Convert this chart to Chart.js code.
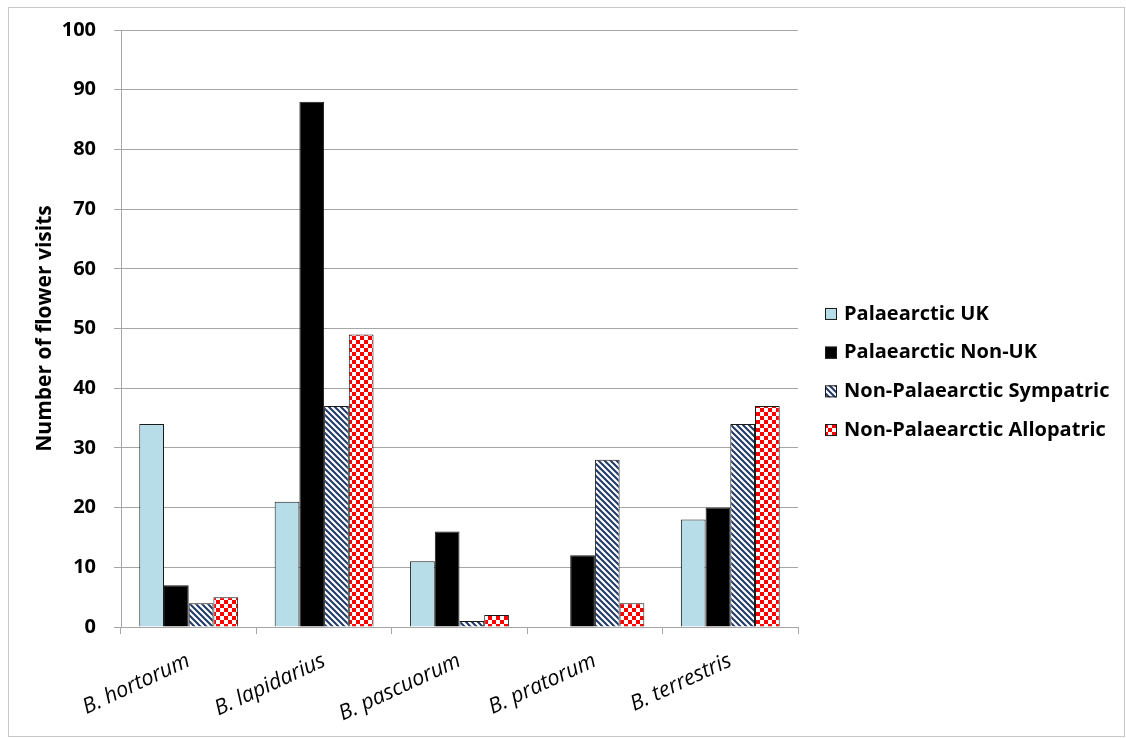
<!DOCTYPE html>
<html>
<head>
<meta charset="utf-8">
<script src="https://cdn.jsdelivr.net/npm/chart.js@4.4.0/dist/chart.umd.min.js"></script>
<style>
  html, body { margin: 0; padding: 0; background: #fff; }
  #wrap { position: relative; width: 1126px; height: 738px; }
  #frame { position: absolute; left: 8px; top: 7px; width: 1117px; height: 730px; box-sizing: border-box; border: 1px solid #c8c8c8; pointer-events: none; }
</style>
</head>
<body>
<div id="wrap">
  <canvas id="visitsChart" width="1126" height="738"></canvas>
  <div id="frame"></div>
</div>
<script>
const species = ["B. hortorum", "B. lapidarius", "B. pascuorum", "B. pratorum", "B. terrestris"];
const seriesNames = ["Palaearctic UK", "Palaearctic Non-UK", "Non-Palaearctic Sympatric", "Non-Palaearctic Allopatric"];
const palaearcticUK = [34, 21, 11, 0, 18];
const palaearcticNonUK = [7, 88, 16, 12, 20];
const nonPalSympatric = [4, 37, 1, 28, 34];
const nonPalAllopatric = [5, 49, 2, 4, 37];
const yTicks = { min: 0, max: 100, step: 10 };

function stripePattern() {
  const c = document.createElement("canvas");
  c.width = 6;
  c.height = 6;
  const g = c.getContext("2d");
  g.fillStyle = "#ffffff";
  g.fillRect(0, 0, 6, 6);
  g.strokeStyle = "#1f3864";
  g.lineWidth = 2;
  g.beginPath();
  g.moveTo(-1, -1); g.lineTo(7, 7);
  g.moveTo(-1, 5); g.lineTo(1, 7);
  g.moveTo(5, -1); g.lineTo(7, 1);
  g.stroke();
  return g.createPattern(c, "repeat");
}

function checkerPattern() {
  const c = document.createElement("canvas");
  c.width = 8;
  c.height = 8;
  const g = c.getContext("2d");
  g.fillStyle = "#ffffff";
  g.fillRect(0, 0, 8, 8);
  g.fillStyle = "#ff0000";
  g.fillRect(0, 0, 4, 4);
  g.fillRect(4, 4, 4, 4);
  return g.createPattern(c, "repeat");
}

const fills = ["#b7dde8", "#000000", stripePattern(), checkerPattern()];
const values = [palaearcticUK, palaearcticNonUK, nonPalSympatric, nonPalAllopatric];

const axisGray = "#a6a6a6";
const font = "'Open Sans', sans-serif";

// legend drawn beside the plot, Excel style (small square + bold text)
const sideLegend = {
  id: "sideLegend",
  afterDraw(chart) {
    const ctx = chart.ctx;
    const sets = chart.data.datasets;
    const spacing = 38.7;
    const x = chart.chartArea.right + 27;
    const mid = chart.height / 2 + 3;
    ctx.save();
    ctx.font = "bold 20px " + font;
    ctx.textBaseline = "middle";
    sets.forEach((ds, i) => {
      const y = mid + (i - (sets.length - 1) / 2) * spacing;
      ctx.fillStyle = ds.backgroundColor;
      ctx.fillRect(x, y - 6, 12, 12);
      ctx.strokeStyle = "#1a1a1a";
      ctx.lineWidth = 1;
      ctx.strokeRect(x + 0.5, y - 5.5, 11, 11);
      ctx.fillStyle = "#000";
      ctx.fillText(ds.label, x + 19, y);
    });
    ctx.restore();
  }
};

new Chart(document.getElementById("visitsChart"), {
  type: "bar",
  data: {
    labels: species,
    datasets: seriesNames.map((name, i) => ({
      label: name,
      data: values[i],
      backgroundColor: fills[i],
      borderColor: "#1a1a1a",
      borderWidth: 1,
      categoryPercentage: 0.73,
      barPercentage: 1
    }))
  },
  options: {
    responsive: false,
    animation: false,
    layout: { padding: { left: 3, right: 328, top: 29, bottom: -3 } },
    plugins: {
      tooltip: { enabled: false },
      legend: { display: false }
    },
    scales: {
      x: {
        grid: { drawOnChartArea: false, drawTicks: true, tickLength: 7, color: axisGray },
        border: { color: axisGray },
        ticks: {
          font: { family: font, size: 21.5, style: "italic" },
          color: "#000",
          maxRotation: 25,
          minRotation: 25,
          padding: 14
        }
      },
      y: {
        min: yTicks.min,
        max: yTicks.max,
        afterFit(scale) {
          scale.width = 118;
        },
        grid: { color: axisGray, tickLength: 7 },
        border: { color: axisGray },
        ticks: {
          stepSize: yTicks.step,
          font: { family: font, size: 20, weight: "bold" },
          color: "#000",
          padding: 18
        },
        title: {
          display: true,
          text: "Number of flower visits",
          font: { family: font, size: 21, weight: "bold" },
          color: "#000",
          padding: { top: 29, bottom: 0 }
        }
      }
    }
  },
  plugins: [sideLegend]
});
</script>
</body>
</html>
